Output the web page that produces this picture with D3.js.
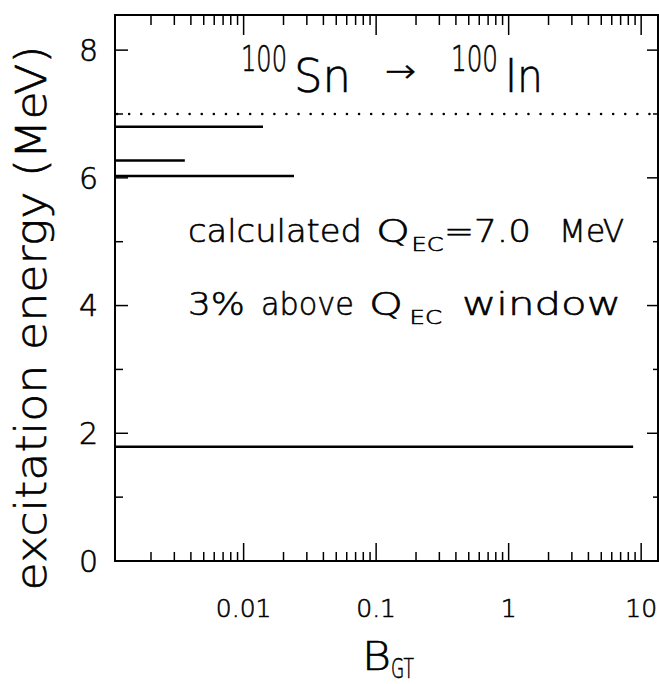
<!DOCTYPE html>
<html>
<head>
<meta charset="utf-8">
<script src="https://cdn.jsdelivr.net/npm/d3@7"></script>
<style>
  html, body { margin: 0; padding: 0; background: #fff; }
  svg text { font-family: "DejaVu Sans", sans-serif; font-weight: 200; fill: #000; stroke: #000; stroke-width: 0.6px; }
</style>
</head>
<body>
<svg id="chart" width="659" height="684"></svg>
<script>
// ---- data ----
const levelEnergy = [6.80, 6.27, 6.03, 1.79];      // MeV
const levelBGT    = [0.014, 0.0036, 0.024, 8.7];   // B(GT)
const qEC = 7.0;                                   // MeV (dotted line)
const xTickLabels = ["0.01", "0.1", "1", "10"];
const xMajorValues = [0.01, 0.1, 1, 10];
const yTickValues = [0, 1, 2, 3, 4, 5, 6, 7, 8];
const yLabelValues = [0, 2, 4, 6, 8];

const svg = d3.select("#chart");
const L = 115, R = 658, T = 15, B = 561;

const x = d3.scaleLog().domain([0.00107, 13.4]).range([L, R]);
const y = d3.scaleLinear().domain([0, 8.55]).range([B, T]);

const isMajor = d => Math.abs(Math.log10(d) - Math.round(Math.log10(d))) < 1e-6;
const xt = x.ticks();

// frame
svg.append("rect").attr("x", L).attr("y", T).attr("width", R - L).attr("height", B - T)
  .attr("fill", "none").attr("stroke", "#000").attr("stroke-width", 2);

// x ticks bottom & top
svg.append("g").selectAll("line").data(xt).join("line")
  .attr("x1", d => x(d)).attr("x2", d => x(d))
  .attr("y1", B).attr("y2", d => B - (isMajor(d) ? 18 : 9))
  .attr("stroke", "#000").attr("stroke-width", 1.5);
svg.append("g").selectAll("line").data(xt).join("line")
  .attr("x1", d => x(d)).attr("x2", d => x(d))
  .attr("y1", T).attr("y2", d => T + (isMajor(d) ? 20 : 10))
  .attr("stroke", "#000").attr("stroke-width", 1.5);

// y ticks left & right
svg.append("g").selectAll("line").data(yTickValues).join("line")
  .attr("x1", L).attr("x2", d => L + (d % 2 === 0 ? 13 : 8))
  .attr("y1", d => y(d)).attr("y2", d => y(d))
  .attr("stroke", "#000").attr("stroke-width", 1.5);
svg.append("g").selectAll("line").data(yTickValues).join("line")
  .attr("x1", R).attr("x2", d => R - (d % 2 === 0 ? 11 : 5))
  .attr("y1", d => y(d)).attr("y2", d => y(d))
  .attr("stroke", "#000").attr("stroke-width", 1.5);

// tick labels
svg.append("g").selectAll("text").data(xMajorValues).join("text")
  .attr("x", d => x(d)).attr("y", 617).attr("text-anchor", "middle")
  .attr("font-size", 25).text((d, i) => xTickLabels[i]);
svg.append("g").selectAll("text").data(yLabelValues).join("text")
  .attr("x", 98).attr("y", d => y(d)).attr("dy", "0.36em").attr("text-anchor", "end")
  .attr("font-size", 30).text(d => String(d));

// Q_EC dotted line
svg.append("line")
  .attr("x1", L + 2).attr("x2", R - 2)
  .attr("y1", y(qEC)).attr("y2", y(qEC))
  .attr("stroke", "#000").attr("stroke-width", 2.5)
  .attr("stroke-linecap", "round")
  .attr("stroke-dasharray", "0.1 12");

// level lines
svg.append("g").selectAll("line").data(levelEnergy).join("line")
  .attr("x1", x(x.domain()[0])).attr("x2", (d, i) => x(levelBGT[i]))
  .attr("y1", d => y(d)).attr("y2", d => y(d))
  .attr("stroke", "#000").attr("stroke-width", 2.5);

// text piece spanning x0..x1: natural font, squeezed/stretched horizontally
function piece(t, x0, x1, base, size) {
  const el = svg.append("text").attr("font-size", size).text(t);
  const w = el.node().getComputedTextLength();
  el.attr("transform", `translate(${x0},${base}) scale(${(x1 - x0) / w},1)`);
  return el;
}

// title
piece("100", 241, 287, 70.7, 36);
piece("Sn", 294, 351, 92, 46);
piece("→", 385, 416, 82, 32);
piece("100", 451, 498, 70.7, 36);
piece("In", 505, 543, 92, 46);

// annotations
const A = 32, S = 19;
const b1 = 242, b2 = 315;
piece("calculated", 188, 362, b1, A);
piece("Q", 376, 410, b1, A);
piece("EC", 411.5, 443.5, b1 + 8.5, S);
piece("=7.0", 444, 531, b1, A);
piece("MeV", 559, 624, b1, A);

piece("3%", 188, 245, b2, A);
piece("above", 261, 354, b2, A);
piece("Q", 369, 403, b2, A);
piece("EC", 409.5, 442, b2 + 8.5, S);
piece("window", 462, 621, b2, A);

// x axis title
piece("B", 362, 391, 670, 39);
piece("GT", 391, 414, 678, 26);

// y axis title
const yl = svg.append("text").attr("text-anchor", "middle").attr("font-size", 43)
  .text("excitation energy (MeV)");
const ylw = yl.node().getComputedTextLength();
yl.attr("transform", `translate(46,318) rotate(-90) scale(${545 / ylw},1)`);
</script>
</body>
</html>
